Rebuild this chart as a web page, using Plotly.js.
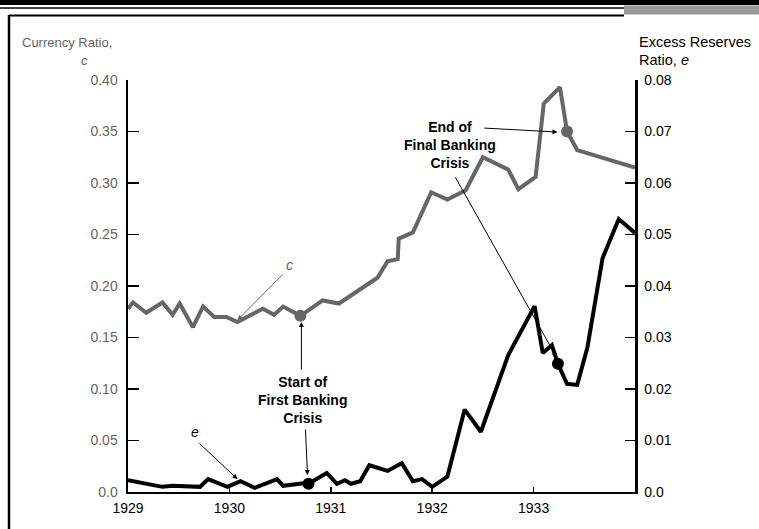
<!DOCTYPE html>
<html>
<head>
<meta charset="utf-8">
<script src="https://cdn.plot.ly/plotly-3.0.1.min.js"></script>
<style>html,body{margin:0;padding:0;background:#fff;}#chart{width:759px;height:529px;}</style>
</head>
<body>
<div id="chart"></div>
<script>
// Currency ratio c (left axis)
const cYears = [1929.0, 1929.05, 1929.18, 1929.34, 1929.44, 1929.51, 1929.64, 1929.74, 1929.85, 1929.97, 1930.08, 1930.33, 1930.44, 1930.53, 1930.70, 1930.92, 1931.08, 1931.46, 1931.56, 1931.66, 1931.67, 1931.81, 1931.99, 1932.15, 1932.33, 1932.50, 1932.75, 1932.85, 1933.02, 1933.10, 1933.26, 1933.33, 1933.43, 1934.0];
const cValues = [0.178, 0.184, 0.174, 0.184, 0.172, 0.183, 0.160, 0.180, 0.170, 0.170, 0.165, 0.178, 0.172, 0.180, 0.171, 0.186, 0.183, 0.208, 0.224, 0.226, 0.246, 0.252, 0.291, 0.284, 0.293, 0.325, 0.313, 0.294, 0.306, 0.377, 0.393, 0.350, 0.332, 0.315];
// Excess reserves ratio e (right axis)
const eYears = [1929.0, 1929.34, 1929.44, 1929.71, 1929.79, 1929.98, 1930.11, 1930.25, 1930.47, 1930.53, 1930.73, 1930.78, 1930.96, 1931.06, 1931.14, 1931.20, 1931.29, 1931.38, 1931.56, 1931.70, 1931.81, 1931.90, 1932.0, 1932.15, 1932.32, 1932.48, 1932.75, 1933.01, 1933.09, 1933.18, 1933.24, 1933.33, 1933.43, 1933.53, 1933.68, 1933.84, 1934.0];
const eValues = [0.0023, 0.0010, 0.0012, 0.0010, 0.0025, 0.0010, 0.0021, 0.0008, 0.0025, 0.0012, 0.0017, 0.0016, 0.0037, 0.0016, 0.0023, 0.0016, 0.0021, 0.0052, 0.0041, 0.0056, 0.0021, 0.0025, 0.0010, 0.0030, 0.0160, 0.0117, 0.0266, 0.0361, 0.0270, 0.0285, 0.0249, 0.0210, 0.0208, 0.0280, 0.0454, 0.0530, 0.0503];
// Crisis markers
const cMarkYears = [1930.70, 1933.33];
const cMarkValues = [0.171, 0.350];
const eMarkYears = [1930.78, 1933.24];
const eMarkValues = [0.0016, 0.0249];
// Tick labels
const xTickVals = [1929, 1930, 1931, 1932, 1933];
const xTickText = ['1929', '1930', '1931', '1932', '1933'];
const cTickVals = [0, 0.05, 0.10, 0.15, 0.20, 0.25, 0.30, 0.35, 0.40];
const cTickText = ['0.0', '0.05', '0.10', '0.15', '0.20', '0.25', '0.30', '0.35', '0.40'];
const eTickVals = [0, 0.01, 0.02, 0.03, 0.04, 0.05, 0.06, 0.07, 0.08];
const eTickText = ['0.0', '0.01', '0.02', '0.03', '0.04', '0.05', '0.06', '0.07', '0.08'];

const FONT = 'Liberation Sans, Arial, Helvetica, sans-serif';
const GRAY = '#666666';

const traces = [
  {x: cYears, y: cValues, type: 'scatter', mode: 'lines', line: {color: GRAY, width: 4}, cliponaxis: false, hoverinfo: 'skip'},
  {x: eYears, y: eValues, type: 'scatter', mode: 'lines', yaxis: 'y2', line: {color: '#000', width: 4}, cliponaxis: false, hoverinfo: 'skip'},
  {x: cMarkYears, y: cMarkValues, type: 'scatter', mode: 'markers', marker: {color: GRAY, size: 12}, cliponaxis: false},
  {x: eMarkYears, y: eMarkValues, type: 'scatter', mode: 'markers', yaxis: 'y2', marker: {color: '#000', size: 12}, cliponaxis: false}
];

function px2xp(px) { return (px - 128) / 507; }
function py2yp(py) { return (492 - py) / 412; }

const annFont = {family: FONT, size: 14, color: '#000'};
const annotations = [
  // axis titles
  {xref: 'paper', yref: 'paper', x: px2xp(20), y: py2yp(42), xanchor: 'left', yanchor: 'middle', showarrow: false, text: 'Currency Ratio,', font: {family: FONT, size: 13, color: GRAY}},
  {xref: 'paper', yref: 'paper', x: px2xp(84), y: py2yp(60), xanchor: 'center', yanchor: 'middle', showarrow: false, text: '<i>c</i>', font: {family: FONT, size: 13, color: GRAY}},
  {xref: 'paper', yref: 'paper', x: px2xp(637), y: py2yp(42), xanchor: 'left', yanchor: 'middle', showarrow: false, text: 'Excess Reserves', font: {family: FONT, size: 14.5, color: '#000'}},
  {xref: 'paper', yref: 'paper', x: px2xp(637), y: py2yp(60), xanchor: 'left', yanchor: 'middle', showarrow: false, text: 'Ratio, <i>e</i>', font: {family: FONT, size: 14.5, color: '#000'}},
  // series labels
  {xref: 'x', yref: 'y', x: 1930.59, y: 0.2204, showarrow: false, text: '<i>c</i>', font: {family: FONT, size: 14, color: GRAY}},
  {xref: 'x', yref: 'y2', x: 1929.66, y: 0.01165, showarrow: false, text: '<i>e</i>', font: {family: FONT, size: 14, color: '#000'}},
  {xref: 'x', yref: 'y', x: 1930.08, y: 0.167, axref: 'x', ayref: 'y', ax: 1930.54, ay: 0.2126, text: '', showarrow: true, arrowhead: 2, arrowsize: 1, arrowwidth: 1, arrowcolor: GRAY},
  {xref: 'x', yref: 'y2', x: 1930.08, y: 0.0025, axref: 'x', ayref: 'y2', ax: 1929.69, ay: 0.0097, text: '', showarrow: true, arrowhead: 2, arrowsize: 1, arrowwidth: 1, arrowcolor: '#000'},
  // crisis labels
  {xref: 'x', yref: 'y', x: 1930.72, y: 0.0893, showarrow: false, align: 'center', text: '<b>Start of<br>First Banking<br>Crisis</b>', font: annFont},
  {xref: 'x', yref: 'y', x: 1930.71, y: 0.165, axref: 'x', ayref: 'y', ax: 1930.71, ay: 0.1175, text: '', showarrow: true, arrowhead: 2, arrowsize: 1, arrowwidth: 1, arrowcolor: '#000'},
  {xref: 'x', yref: 'y2', x: 1930.77, y: 0.0033, axref: 'x', ayref: 'y2', ax: 1930.75, ay: 0.0124, text: '', showarrow: true, arrowhead: 2, arrowsize: 1, arrowwidth: 1, arrowcolor: '#000'},
  {xref: 'x', yref: 'y', x: 1932.18, y: 0.337, showarrow: false, align: 'center', text: '<b>End of<br>Final Banking<br>Crisis</b>', font: annFont},
  {xref: 'x', yref: 'y', x: 1933.235, y: 0.3495, axref: 'x', ayref: 'y', ax: 1932.5, ay: 0.3534, text: '', showarrow: true, arrowhead: 2, arrowsize: 1, arrowwidth: 1, arrowcolor: '#000'},
  {xref: 'x', yref: 'y2', x: 1933.225, y: 0.0262, axref: 'x', ayref: 'y2', ax: 1932.22, ay: 0.0614, text: '', showarrow: true, arrowhead: 2, arrowsize: 1, arrowwidth: 1, arrowcolor: '#000'}
];

const shapes = [
  {type: 'line', xref: 'paper', yref: 'paper', x0: px2xp(0), x1: px2xp(759), y0: py2yp(2.5), y1: py2yp(2.5), line: {color: '#000', width: 5}},
  {type: 'line', xref: 'paper', yref: 'paper', x0: px2xp(0), x1: px2xp(759), y0: py2yp(8), y1: py2yp(8), line: {color: '#000', width: 1.5}},
  {type: 'rect', xref: 'paper', yref: 'paper', x0: px2xp(624), x1: px2xp(760), y0: py2yp(5.5), y1: py2yp(14.5), fillcolor: '#9a9a9a', line: {width: 0}},
  {type: 'line', xref: 'paper', yref: 'paper', x0: px2xp(9), x1: px2xp(624), y0: py2yp(15.5), y1: py2yp(15.5), line: {color: '#000', width: 2}},
  {type: 'line', xref: 'paper', yref: 'paper', x0: px2xp(9), x1: px2xp(9), y0: py2yp(15), y1: py2yp(540), line: {color: '#000', width: 2.5}}
];

const layout = {
  width: 759, height: 529,
  margin: {l: 128, r: 124, t: 80, b: 37},
  paper_bgcolor: '#fff', plot_bgcolor: '#fff',
  showlegend: false,
  font: {family: FONT, size: 14, color: '#000'},
  xaxis: {range: [1929, 1934], tickvals: xTickVals, ticktext: xTickText, ticks: 'inside', ticklen: 5, tickwidth: 1.5, tickcolor: '#000', ticklabelstandoff: 2,
          showline: true, linecolor: '#000', linewidth: 2, showgrid: false, zeroline: false, tickfont: {family: FONT, size: 14, color: '#000'}},
  yaxis: {range: [0, 0.40], tickvals: cTickVals, ticktext: cTickText, ticks: 'inside', ticklen: 11, tickwidth: 1.5, tickcolor: '#000', ticklabelstandoff: 5,
          showline: true, linecolor: '#000', linewidth: 2.5, showgrid: false, zeroline: false, tickfont: {family: FONT, size: 14, color: GRAY}},
  yaxis2: {range: [0, 0.08], tickvals: eTickVals, ticktext: eTickText, overlaying: 'y', side: 'right', ticks: 'inside', ticklen: 10, tickwidth: 1.5, tickcolor: '#000', ticklabelstandoff: 4,
          showline: true, linecolor: '#000', linewidth: 2.5, showgrid: false, zeroline: false, tickfont: {family: FONT, size: 14, color: '#000'}},
  annotations: annotations,
  shapes: shapes
};

Plotly.newPlot('chart', traces, layout, {displayModeBar: false, staticPlot: true});
</script>
</body>
</html>
